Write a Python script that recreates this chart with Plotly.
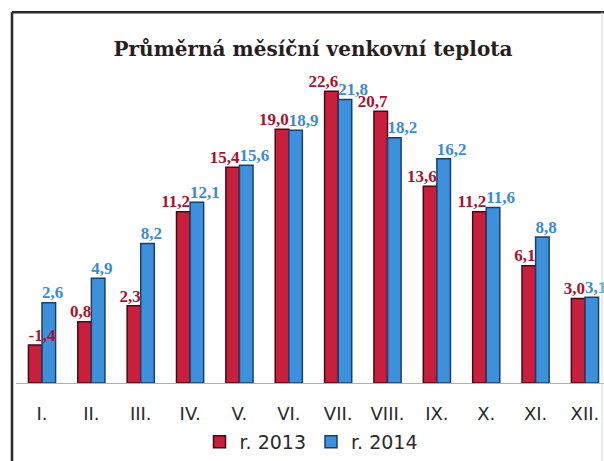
import plotly.graph_objects as go

months = ["I.", "II.", "III.", "IV.", "V.", "VI.", "VII.", "VIII.", "IX.", "X.", "XI.", "XII."]
t2013 = [-1.4, 0.8, 2.3, 11.2, 15.4, 19.0, 22.6, 20.7, 13.6, 11.2, 6.1, 3.0]
t2014 = [2.6, 4.9, 8.2, 12.1, 15.6, 18.9, 21.8, 18.2, 16.2, 11.6, 8.8, 3.1]
axis_min = -5.0
axis_max = 24.6

def fmt(v):
    return f"{v:.1f}".replace(".", ",")

W, H = 604, 461
ml, mr, mt, mb = 16, 0, 70, 77
pw = W - ml - mr
ph = H - mt - mb

RED, RED_TXT, RED_EDGE = "#c81f3c", "#a8122e", "#4a0612"
BLUE, BLUE_TXT, BLUE_EDGE = "#3d90dc", "#3c8ad4", "#1b3f66"
label_font = dict(family="Liberation Serif", size=17, weight="bold")
xs = list(range(len(months)))

fig = go.Figure()
fig.add_trace(go.Bar(
    name="r. 2013", x=xs, y=[v - axis_min for v in t2013], base=axis_min,
    marker=dict(color=RED, line=dict(color=RED_EDGE, width=1.5)), hoverinfo="skip",
))
fig.add_trace(go.Bar(
    name="r. 2014", x=xs, y=[v - axis_min for v in t2014], base=axis_min,
    marker=dict(color=BLUE, line=dict(color=BLUE_EDGE, width=1.5)), hoverinfo="skip",
))
# value labels (drawn above all bars, as in the original)
red_pos = ["top center"] + ["top left"] * (len(months) - 1)
fig.add_trace(go.Scatter(
    x=xs, y=t2013, mode="text", text=[fmt(v) for v in t2013], textposition=red_pos,
    textfont=dict(color=RED_TXT, **label_font), showlegend=False, cliponaxis=False, hoverinfo="skip",
))
fig.add_trace(go.Scatter(
    x=xs, y=t2014, mode="text", text=[fmt(v) for v in t2014], textposition="top right",
    textfont=dict(color=BLUE_TXT, **label_font), showlegend=False, cliponaxis=False, hoverinfo="skip",
))

def px2paper_x(px):
    return (px - ml) / pw

def px2paper_y(py):
    return (H - mb - py) / ph

# chart frame (top + left dark, right faint)
fig.add_shape(type="line", xref="paper", yref="paper",
              x0=px2paper_x(12), x1=px2paper_x(604), y0=px2paper_y(12), y1=px2paper_y(12),
              line=dict(color="#2a2a2a", width=2.5))
fig.add_shape(type="line", xref="paper", yref="paper",
              x0=px2paper_x(12), x1=px2paper_x(12), y0=px2paper_y(12), y1=px2paper_y(470),
              line=dict(color="#2a2a2a", width=2.5))
fig.add_shape(type="line", xref="paper", yref="paper",
              x0=px2paper_x(602), x1=px2paper_x(602), y0=px2paper_y(12), y1=px2paper_y(470),
              line=dict(color="#d8d8d8", width=1))

fig.update_layout(
    width=W, height=H,
    margin=dict(l=ml, r=mr, t=mt, b=mb),
    paper_bgcolor="white", plot_bgcolor="white",
    barmode="group", bargap=0.45, bargroupgap=0,
    title=dict(text="<b>Průměrná měsíční venkovní teplota</b>", x=313 / W, xanchor="center",
               y=1 - 49 / H, yanchor="middle", yref="container",
               font=dict(family="DejaVu Serif", size=20, color="#2a1d1d")),
    xaxis=dict(tickmode="array", tickvals=xs, ticktext=months,
               range=[-0.527, 11.386], showline=True, linecolor="#b0b0b0", linewidth=1,
               showgrid=False, zeroline=False, ticks="", ticklabelstandoff=14,
               tickfont=dict(family="DejaVu Sans", size=18, color="#2b2b2b")),
    yaxis=dict(range=[axis_min, axis_max], visible=False, showgrid=False, zeroline=False),
    legend=dict(orientation="h", x=(311 - ml) / pw, xanchor="center", xref="paper",
                y=px2paper_y(443), yanchor="middle",
                font=dict(family="DejaVu Sans", size=19, color="#2b2b2b"),
                itemwidth=30, tracegroupgap=0),
    showlegend=True,
)

fig.write_html("out.html", post_script="document.body.style.margin='0px';",
               config={"displayModeBar": False})
